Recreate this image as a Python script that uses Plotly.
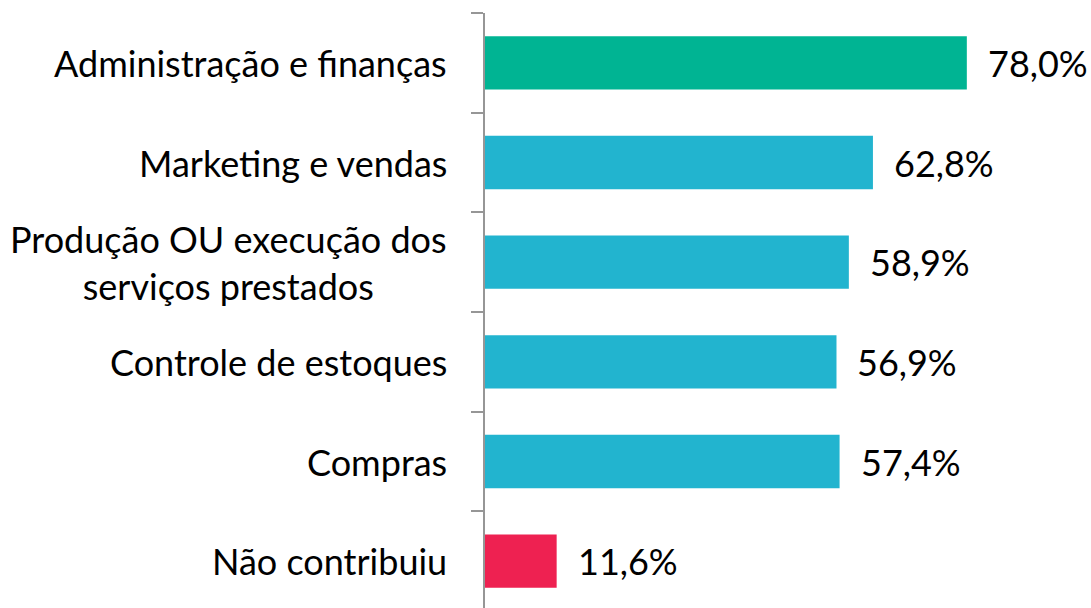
import plotly.graph_objects as go

categories = ["Administração e finanças", "Marketing e vendas",
              "Produção OU execução dos<br>serviços prestados",
              "Controle de estoques", "Compras", "Não contribuiu"]
values = [78.0, 62.8, 58.9, 56.9, 57.4, 11.6]
value_labels = ["78,0%", "62,8%", "58,9%", "56,9%", "57,4%", "11,6%"]
colors = ["#00B493", "#22B4CF", "#22B4CF", "#22B4CF", "#22B4CF", "#EE2151"]

FONT = "Lato, Carlito, Calibri, sans-serif"
FS = 36

fig = go.Figure(go.Bar(
    x=values, y=categories, orientation="h",
    marker=dict(color=colors, line=dict(width=0)),
    width=0.535, hoverinfo="skip",
))

for c, v, t in zip(categories, values, value_labels):
    fig.add_annotation(x=v, y=c, xref="x", yref="y", text=t, showarrow=False,
                       xanchor="left", yanchor="middle", xshift=19,
                       font=dict(family=FONT, size=FS, color="#000000"))
    fig.add_annotation(x=0, y=c, xref="paper", yref="y", text=c, showarrow=False,
                       xanchor="right", yanchor="middle", xshift=-36, align="center",
                       font=dict(family=FONT, size=FS, color="#000000"))

fig.update_layout(
    width=1091, height=611,
    margin=dict(l=485, r=0, t=13, b=0, pad=0),
    paper_bgcolor="white", plot_bgcolor="white",
    showlegend=False,
    xaxis=dict(range=[0, 98.1], visible=False, fixedrange=True),
    yaxis=dict(autorange="reversed", showticklabels=False,
               showline=True, linecolor="#969696", linewidth=2,
               ticks="outside", ticklen=12, tickcolor="#969696", tickwidth=2,
               tickson="boundaries", showgrid=False, zeroline=False,
               fixedrange=True, automargin=False),
)

fig.write_html("out.html", config={"displayModeBar": False},
               post_script="document.body.style.margin='0';")
